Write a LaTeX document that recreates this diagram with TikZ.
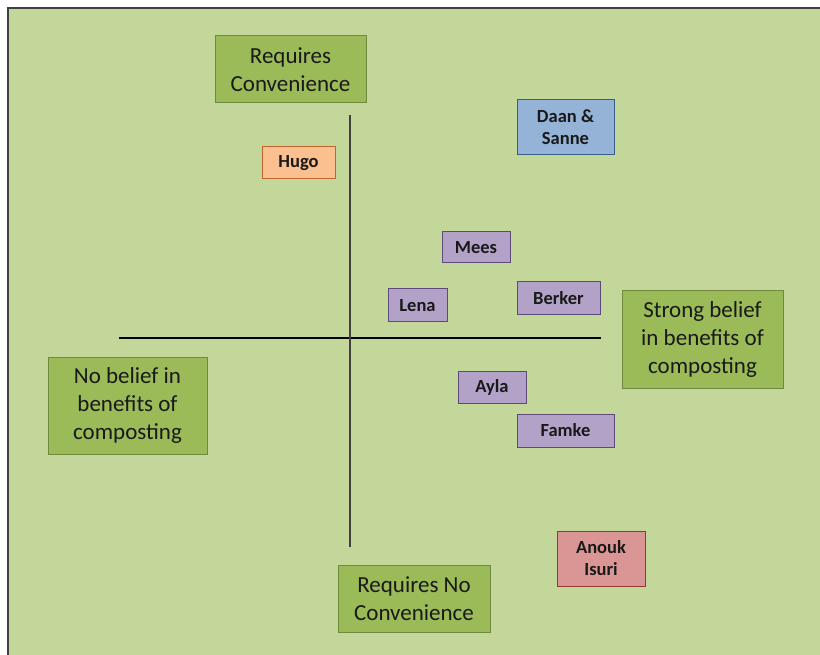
\documentclass[tikz,border=0pt]{standalone}
\usepackage{fontspec}
\setmainfont{Carlito}
\usepackage{tikz}
\definecolor{bggreen}{HTML}{C4D79B}
\definecolor{axisgreen}{HTML}{9BBB59}
\definecolor{axisline}{HTML}{71893F}
\definecolor{purplefill}{HTML}{B3A2C7}
\definecolor{purpleline}{HTML}{5F497A}
\definecolor{orangefill}{HTML}{FAC090}
\definecolor{orangeline}{HTML}{C0662C}
\definecolor{bluefill}{HTML}{95B3D7}
\definecolor{blueline}{HTML}{385D8A}
\definecolor{redfill}{HTML}{DA9694}
\definecolor{redline}{HTML}{953735}
\definecolor{framegray}{HTML}{404040}

\begin{document}
\begin{tikzpicture}[x = 1pt, y = -1pt,
    axislabel/.style = {draw = axisline, fill = axisgreen, line width = 1pt, align = center, inner sep = 0pt,
      text = black!90, font = \fontsize{23}{28}\selectfont},
    person/.style = {draw = purpleline, fill = purplefill, line width = 1pt, align = center, inner sep = 0pt,
      text = black!90, font = \fontsize{18.5}{22}\selectfont\bfseries}]
      \useasboundingbox (0,0) rectangle (820,655);
      \fill[bggreen] (8,8) rectangle (820,655);
      \draw[framegray, line width = 2pt] (8,655) -- (8,8) -- (820,8);

      % axes
      \coordinate (xl) at (119,338);
      \coordinate (xr) at (601,338);
      \coordinate (yt) at (350,115);
      \coordinate (yb) at (350,547);
      \draw[black, line width = 2pt] (xl) -- (xr);
      \draw[black!75, line width = 1.2pt] (yt) -- (yb);

      % axis labels
      \node[axislabel, minimum width = 151, minimum height = 67] (conv) at (290.5,69.5) {Requires\\Convenience};
      \node[axislabel, minimum width = 152, minimum height = 67] (noconv) at (414,598.5) {Requires No\\Convenience};
      \node[axislabel, minimum width = 161, minimum height = 97] (strong) at (702.5,339.5) {Strong belief\\in benefits of\\composting};
      \node[axislabel, minimum width = 159, minimum height = 97] (nobelief) at (127.5,405.5) {No belief in\\benefits of\\composting};

      % participants
      \node[person, draw = orangeline, fill = orangefill, minimum width = 73, minimum height = 32] (hugo) at (298.5,163) {Hugo};
      \node[person, draw = blueline, fill = bluefill, minimum width = 97, minimum height = 55] (daan) at (565.5,127.5) {Daan \&\\Sanne};
      \node[person, minimum width = 68, minimum height = 31] (mees) at (476,247.5) {Mees};
      \node[person, minimum width = 59, minimum height = 33] (lena) at (417.5,305.5) {Lena};
      \node[person, minimum width = 83, minimum height = 33] (berker) at (558.5,298.5) {Berker};
      \node[person, minimum width = 68, minimum height = 32] (ayla) at (492,387) {Ayla};
      \node[person, minimum width = 97, minimum height = 33] (famke) at (565.5,430.5) {Famke};
      \node[person, draw = redline, fill = redfill, minimum width = 88, minimum height = 55] (anouk) at (601,558.5) {Anouk\\Isuri};
    \end{tikzpicture}
\end{document}
